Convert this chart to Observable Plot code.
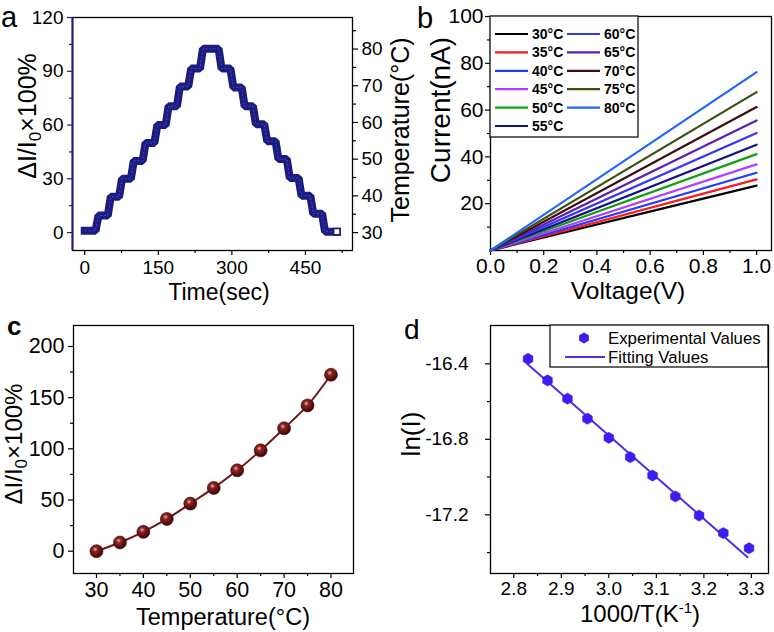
<!DOCTYPE html>
<html>
<head>
<meta charset="utf-8">
<script src="https://cdn.jsdelivr.net/npm/d3@7"></script>
<script src="https://cdn.jsdelivr.net/npm/@observablehq/plot@0.6"></script>
<style>
html, body { margin: 0; padding: 0; background: #fff; }
#page { position: relative; width: 774px; height: 632px; overflow: hidden; background: #fff; }
#page svg { position: absolute; left: 0; top: 0; }
</style>
</head>
<body>
<div id="page"></div>
<script>
// ---------------- DATA ----------------
// Panel a: step response (corner points of the plateaus)
const aTime = [0,22, 28,47, 53,70, 76,94, 100,118, 124,142, 148,165, 171,188, 194,211, 217,235, 241,273,
               279,297, 303,320, 326,343, 349,366, 372,389, 395,412, 418,436, 442,460, 466,484, 490,514];
const aDeltaI = [1,1, 9.5,9.5, 20,20, 30,30, 40,40, 50,50, 60,60, 70.5,70.5, 81.5,81.5, 91.5,91.5, 102.5,102.5,
                 91.5,91.5, 81,81, 70.5,70.5, 60.5,60.5, 51,51, 41,41, 30.5,30.5, 20.5,20.5, 10.5,10.5, 0.5,0.5];
const aTimeTicks = [0, 150, 300, 450];
const aTimeMinor = [75, 225, 375, 525];
const aDeltaTicks = [0, 30, 60, 90, 120];
const aDeltaMinor = [15, 45, 75, 105];
const aTempTicks = [30, 40, 50, 60, 70, 80];
const aTempMinor = [35, 45, 55, 65, 75, 85];
const aTempLow = 30, aTempHigh = 80, aDeltaAtHigh = 102.4; // right axis calibration

// Panel b: I-V lines
const bTemps = [30, 35, 40, 45, 50, 55, 60, 65, 70, 75, 80];
const bCurrentAt1V = [27.7, 30.4, 33.2, 36.8, 41.2, 45.2, 50.2, 55.6, 61.3, 67.7, 76.2];
const bVoltEnds = [0, 1];
const bColors = ["#000000", "#ff1a1a", "#1f3cff", "#b040ff", "#12a012", "#14147e",
                 "#3434ff", "#5a20b4", "#3e0c0c", "#3c500c", "#1e66ff"];
const bVoltTicks = [0, 0.2, 0.4, 0.6, 0.8, 1.0];
const bVoltMinor = [0.1, 0.3, 0.5, 0.7, 0.9];
const bCurTicks = [20, 40, 60, 80, 100];
const bCurMinor = [10, 30, 50, 70, 90];

// Panel c: response vs temperature
const cTemps = [30, 35, 40, 45, 50, 55, 60, 65, 70, 75, 80];
const cDelta = [0, 8.5, 18.9, 31.5, 46.5, 61.8, 79, 98.5, 120, 142.4, 172.4];
const cTempTicks = [30, 40, 50, 60, 70, 80];
const cTempMinor = [35, 45, 55, 65, 75];
const cDeltaTicks = [0, 50, 100, 150, 200];
const cDeltaMinor = [25, 75, 125, 175];

// Panel d: Arrhenius plot
const dInvT = [2.830, 2.871, 2.913, 2.955, 3.000, 3.045, 3.092, 3.140, 3.190, 3.241, 3.295];
const dLnI = [-16.374, -16.488, -16.585, -16.691, -16.792, -16.895, -16.992, -17.103, -17.204, -17.297, -17.377];
const dFitX = [2.828, 3.292];
const dFitY = [-16.40, -17.425];
const dXTicks = [2.8, 2.9, 3.0, 3.1, 3.2, 3.3];
const dXMinor = [2.85, 2.95, 3.05, 3.15, 3.25];
const dYTicks = [-16.4, -16.8, -17.2];
const dYMinor = [-16.6, -17.0, -17.4];

// ---------------- LAYOUT ----------------
const W = 774, H = 632;
const FONT = '"Liberation Sans", Arial, Helvetica, sans-serif';
const NAVY = "#1b1b80";
const page = document.getElementById("page");

function base(l, t, r, b, fs) {
  return {
    width: W, height: H,
    marginLeft: l, marginTop: t, marginRight: W - r, marginBottom: H - b,
    style: {background: "transparent", fontFamily: FONT, fontSize: fs + "px", color: "#000", overflow: "visible"}
  };
}
function addText(svg, content, x, y, o = {}) {
  const t = d3.select(svg).append("text")
    .attr("font-family", FONT).attr("font-size", o.size || 20)
    .attr("font-weight", o.weight || "normal")
    .attr("text-anchor", o.anchor || "middle").attr("fill", "#000");
  if (o.rotate) t.attr("transform", `translate(${x},${y}) rotate(${o.rotate})`);
  else t.attr("x", x).attr("y", y);
  if (o.html) t.html(content); else t.text(content);
  return t;
}
const fmt1 = d => d.toFixed(1);

// ---------- Panel a ----------
const aRows = aTime.map((t, i) => ({t, v: aDeltaI[i]}));
const aXDom = [-25, 546], aYDom = [-10, 120];
const plotA = Plot.plot({
  ...base(72, 17, 352, 250, 19),
  x: {domain: aXDom},
  y: {domain: aYDom},
  marks: [
    Plot.frame({stroke: "#000", strokeWidth: 1.3}),
    Plot.ruleX([aXDom[0]], {stroke: NAVY, strokeWidth: 2}),
    Plot.axisX({ticks: aTimeTicks, tickSize: 5, tickPadding: 5, label: null, strokeWidth: 1.2}),
    Plot.axisX({ticks: aTimeMinor, tickSize: 3, tickFormat: () => "", label: null, strokeWidth: 1.2}),
    Plot.axisY({ticks: aDeltaTicks, tickSize: 5, tickPadding: 4, label: null, stroke: NAVY, strokeWidth: 1.2}),
    Plot.axisY({ticks: aDeltaMinor, tickSize: 3, tickFormat: () => "", label: null, stroke: NAVY, strokeWidth: 1.2}),
    Plot.line(aRows, {x: "t", y: "v", stroke: NAVY, strokeWidth: 8, strokeLinejoin: "miter", strokeLinecap: "square"}),
    Plot.line(aRows, {x: "t", y: "v", stroke: "#4444b0", strokeWidth: 1, strokeDasharray: "1.5 2.5"}),
    Plot.dot(aRows.slice(-1), {x: "t", y: "v", symbol: "square", r: 3.6, fill: "#fff", stroke: NAVY, strokeWidth: 1.6})
  ]
});
page.appendChild(plotA);
// right axis (temperature) overlay
const toTemp = v => aTempLow + v * (aTempHigh - aTempLow) / aDeltaAtHigh;
const plotA2 = Plot.plot({
  ...base(72, 17, 352, 250, 19),
  y: {domain: aYDom.map(toTemp)},
  marks: [
    Plot.axisY({anchor: "right", ticks: aTempTicks, tickSize: 5, tickPadding: 4, label: null, strokeWidth: 1.2}),
    Plot.axisY({anchor: "right", ticks: aTempMinor, tickSize: 3, tickFormat: () => "", label: null, strokeWidth: 1.2})
  ]
});
page.appendChild(plotA2);
addText(plotA, "a", 1, 27, {size: 29, anchor: "start"});
addText(plotA, "Time(sec)", 219, 300, {size: 23});
addText(plotA, `ΔI/I<tspan dy="5" font-size="17">0</tspan><tspan dy="-5">×100%</tspan>`, 36, 116, {size: 25, rotate: -90, html: true});
addText(plotA, "Temperature(°C)", 409, 130, {size: 25, rotate: -90});

// ---------- Panel b ----------
const bRows = bTemps.flatMap((temp, i) => bVoltEnds.map(v => ({temp, v, i: v * bCurrentAt1V[i]})));
const plotB = Plot.plot({
  ...base(490, 16, 771, 250, 21),
  x: {domain: [0, 1.056]},
  y: {domain: [0, 100]},
  marks: [
    Plot.frame({stroke: "#000", strokeWidth: 1.3}),
    Plot.axisX({ticks: bVoltTicks, tickFormat: fmt1, tickSize: 5, tickPadding: 3, label: null, strokeWidth: 1.2}),
    Plot.axisX({ticks: bVoltMinor, tickSize: 3, tickFormat: () => "", label: null, strokeWidth: 1.2}),
    Plot.axisY({ticks: bCurTicks, tickSize: 5, tickPadding: 2, label: null, strokeWidth: 1.2}),
    Plot.axisY({ticks: bCurMinor, tickSize: 3, tickFormat: () => "", label: null, strokeWidth: 1.2}),
    ...bTemps.map((temp, k) => Plot.line(bRows.filter(d => d.temp === temp), {x: "v", y: "i", stroke: bColors[k], strokeWidth: 2.2}))
  ]
});
page.appendChild(plotB);
addText(plotB, "b", 417, 28, {size: 29, anchor: "start"});
addText(plotB, "Voltage(V)", 628, 299, {size: 24.5});
addText(plotB, "Current(nA)", 450, 110, {size: 28, rotate: -90});
{
  const g = d3.select(plotB).append("g");
  g.append("rect").attr("x", 490).attr("y", 16).attr("width", 148).attr("height", 121)
    .attr("fill", "#fff").attr("stroke", "#000").attr("stroke-width", 1.2);
  bTemps.forEach((temp, k) => {
    const col = k < 6 ? 0 : 1, row = k < 6 ? k : k - 6;
    const x0 = col ? 567 : 495, y = 34 + 18.4 * row;
    g.append("line").attr("x1", x0).attr("x2", x0 + 33).attr("y1", y).attr("y2", y)
      .attr("stroke", bColors[k]).attr("stroke-width", 2.2);
    g.append("text").attr("x", x0 + 37).attr("y", y + 5).attr("font-family", FONT)
      .attr("text-anchor", "start")
      .attr("font-size", 14).attr("font-weight", "bold").attr("fill", "#000").text(temp + "°C");
  });
}

// ---------- Panel c ----------
const cRows = cTemps.map((t, i) => ({t, v: cDelta[i]}));
const plotC = Plot.plot({
  ...base(73, 325, 353, 573, 21.5),
  x: {domain: [25.1, 84.8]},
  y: {domain: [-21.8, 220.5]},
  marks: [
    Plot.frame({stroke: "#000", strokeWidth: 1.3}),
    Plot.axisX({ticks: cTempTicks, tickSize: 5, tickPadding: 3, label: null, strokeWidth: 1.2}),
    Plot.axisX({ticks: cTempMinor, tickSize: 3, tickFormat: () => "", label: null, strokeWidth: 1.2}),
    Plot.axisY({ticks: cDeltaTicks, tickSize: 5, tickPadding: 4, label: null, strokeWidth: 1.2}),
    Plot.axisY({ticks: cDeltaMinor, tickSize: 3, tickFormat: () => "", label: null, strokeWidth: 1.2}),
    Plot.line(cRows, {x: "t", y: "v", stroke: "#6e1515", strokeWidth: 2, curve: "catmull-rom"}),
    Plot.dot(cRows, {x: "t", y: "v", r: 6.5, fill: "url(#sphereC)", stroke: "#3d0606", strokeWidth: 0.6})
  ]
});
page.appendChild(plotC);
{
  const defs = d3.select(plotC).insert("defs", ":first-child");
  const rg = defs.append("radialGradient").attr("id", "sphereC").attr("cx", "40%").attr("cy", "35%").attr("r", "65%");
  rg.append("stop").attr("offset", "0%").attr("stop-color", "#e8b0b0");
  rg.append("stop").attr("offset", "30%").attr("stop-color", "#8a2222");
  rg.append("stop").attr("offset", "100%").attr("stop-color", "#3c0505");
}
addText(plotC, "c", 7, 335, {size: 26, anchor: "start", weight: "bold"});
addText(plotC, "Temperature(°C)", 223, 625, {size: 23.5});
addText(plotC, `ΔI/I<tspan dy="5" font-size="17">0</tspan><tspan dy="-5">×100%</tspan>`, 22, 444, {size: 24, rotate: -90, html: true});

// ---------- Panel d ----------
const hexagon = {
  draw(ctx, size) {
    const r = Math.sqrt(size / Math.PI) * 1.08;
    for (let k = 0; k < 6; k++) {
      const a = -Math.PI / 2 + k * Math.PI / 3;
      const px = r * Math.cos(a), py = r * Math.sin(a);
      if (k === 0) ctx.moveTo(px, py); else ctx.lineTo(px, py);
    }
    ctx.closePath();
  }
};
const dRows = dInvT.map((x, i) => ({x, y: dLnI[i]}));
const dFit = dFitX.map((x, i) => ({x, y: dFitY[i]}));
const plotD = Plot.plot({
  ...base(490, 325, 768, 573, 19),
  x: {domain: [2.751, 3.336]},
  y: {domain: [-17.511, -16.197]},
  marks: [
    Plot.frame({stroke: "#000", strokeWidth: 1.3}),
    Plot.axisX({ticks: dXTicks, tickFormat: fmt1, tickSize: 5, tickPadding: 3, label: null, strokeWidth: 1.2}),
    Plot.axisX({ticks: dXMinor, tickSize: 3, tickFormat: () => "", label: null, strokeWidth: 1.2}),
    Plot.axisY({ticks: dYTicks, tickFormat: fmt1, tickSize: 5, tickPadding: 17, label: null, strokeWidth: 1.2}),
    Plot.axisY({ticks: dYMinor, tickSize: 3, tickFormat: () => "", label: null, strokeWidth: 1.2}),
    Plot.line(dFit, {x: "x", y: "y", stroke: "#4a30e6", strokeWidth: 2}),
    Plot.dot(dRows, {x: "x", y: "y", r: 5.2, symbol: hexagon, fill: "#3a1ef2", stroke: "#3a1ef2", strokeWidth: 0.5})
  ]
});
page.appendChild(plotD);
addText(plotD, "d", 404, 339, {size: 28, anchor: "start"});
addText(plotD, `1000/T(K<tspan dy="-9" font-size="15">-1</tspan><tspan dy="9">)</tspan>`, 640, 622, {size: 24, html: true});
addText(plotD, "ln(I)", 420, 434, {size: 26, rotate: -90});
{
  const g = d3.select(plotD).append("g");
  g.append("rect").attr("x", 550).attr("y", 325).attr("width", 218).attr("height", 42)
    .attr("fill", "#fff").attr("stroke", "#000").attr("stroke-width", 1.2);
  g.append("path").attr("transform", "translate(584,338)")
    .attr("d", d3.symbol(hexagon, Math.PI * 5.2 * 5.2)()).attr("fill", "#3a1ef2");
  g.append("line").attr("x1", 565).attr("x2", 605).attr("y1", 357).attr("y2", 357)
    .attr("stroke", "#4a30e6").attr("stroke-width", 2);
  g.append("text").attr("x", 608).attr("y", 343.5).attr("font-family", FONT).attr("font-size", 16.8)
    .attr("text-anchor", "start").attr("fill", "#000").text("Experimental Values");
  g.append("text").attr("x", 608).attr("y", 363).attr("font-family", FONT).attr("font-size", 16.8)
    .attr("text-anchor", "start").attr("fill", "#000").text("Fitting Values");
}
</script>
</body>
</html>
